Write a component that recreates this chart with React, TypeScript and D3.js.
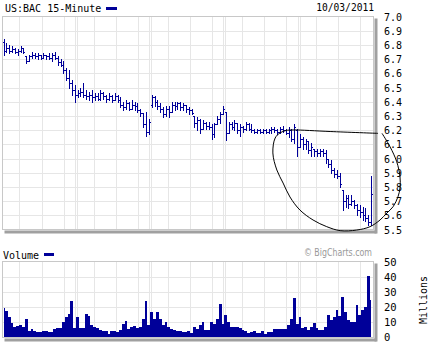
import React from "react";
import * as d3 from "d3";

// OHLC bars, 15-minute, [open, high, low, close], one array per session
const day1: number[][] = [
  [6.82, 6.84, 6.73, 6.76], [6.76, 6.81, 6.75, 6.78], [6.78, 6.80, 6.74, 6.76], [6.76, 6.79, 6.75, 6.77],
  [6.77, 6.78, 6.74, 6.75], [6.75, 6.77, 6.73, 6.76], [6.76, 6.79, 6.75, 6.78], [6.78, 6.78, 6.74, 6.75],
  [6.72, 6.72, 6.67, 6.69], [6.69, 6.73, 6.69, 6.72], [6.72, 6.75, 6.71, 6.73], [6.73, 6.74, 6.71, 6.72],
  [6.72, 6.74, 6.70, 6.73], [6.73, 6.73, 6.70, 6.71], [6.71, 6.74, 6.71, 6.73], [6.73, 6.73, 6.70, 6.72],
  [6.72, 6.74, 6.70, 6.71], [6.71, 6.74, 6.69, 6.73], [6.73, 6.75, 6.70, 6.71], [6.71, 6.72, 6.66, 6.68],
  [6.68, 6.70, 6.65, 6.66], [6.66, 6.69, 6.60, 6.62], [6.62, 6.64, 6.55, 6.57], [6.57, 6.62, 6.50, 6.53],
  [6.53, 6.55, 6.45, 6.48], [6.48, 6.52, 6.40, 6.45],
];
const day2: number[][] = [
  [6.45, 6.48, 6.43, 6.46], [6.46, 6.50, 6.44, 6.47], [6.47, 6.53, 6.43, 6.45], [6.45, 6.48, 6.42, 6.44],
  [6.44, 6.47, 6.41, 6.45], [6.45, 6.48, 6.40, 6.43], [6.43, 6.46, 6.41, 6.44], [6.44, 6.46, 6.41, 6.42],
  [6.42, 6.48, 6.41, 6.46], [6.46, 6.47, 6.42, 6.44], [6.44, 6.45, 6.40, 6.42], [6.42, 6.46, 6.41, 6.44],
  [6.44, 6.45, 6.40, 6.41], [6.41, 6.46, 6.41, 6.44], [6.44, 6.45, 6.40, 6.41], [6.41, 6.43, 6.36, 6.38],
  [6.38, 6.40, 6.34, 6.36], [6.36, 6.41, 6.35, 6.39], [6.39, 6.40, 6.34, 6.35], [6.35, 6.41, 6.35, 6.38],
  [6.38, 6.40, 6.34, 6.37], [6.37, 6.39, 6.33, 6.34], [6.34, 6.35, 6.30, 6.32], [6.32, 6.32, 6.22, 6.24],
  [6.24, 6.33, 6.16, 6.19], [6.19, 6.28, 6.17, 6.26],
];
const day3: number[][] = [
  [6.38, 6.45, 6.36, 6.43], [6.43, 6.44, 6.37, 6.40], [6.40, 6.41, 6.35, 6.37], [6.37, 6.39, 6.33, 6.35],
  [6.35, 6.36, 6.29, 6.31], [6.31, 6.37, 6.30, 6.35], [6.35, 6.37, 6.29, 6.33], [6.33, 6.40, 6.33, 6.38],
  [6.38, 6.40, 6.34, 6.37], [6.37, 6.40, 6.35, 6.39], [6.39, 6.40, 6.34, 6.36], [6.36, 6.39, 6.34, 6.38],
  [6.38, 6.38, 6.33, 6.35], [6.35, 6.36, 6.31, 6.34], [6.34, 6.35, 6.31, 6.32], [6.30, 6.30, 6.22, 6.25],
  [6.25, 6.29, 6.20, 6.27], [6.27, 6.28, 6.18, 6.21], [6.21, 6.27, 6.21, 6.25], [6.25, 6.26, 6.21, 6.23],
  [6.23, 6.26, 6.21, 6.22], [6.22, 6.24, 6.14, 6.17], [6.17, 6.25, 6.15, 6.24], [6.24, 6.30, 6.24, 6.28],
  [6.28, 6.33, 6.25, 6.31], [6.31, 6.37, 6.31, 6.35],
];
const day4: number[][] = [
  [6.33, 6.33, 6.13, 6.18], [6.18, 6.26, 6.18, 6.24], [6.24, 6.26, 6.21, 6.22], [6.22, 6.27, 6.20, 6.25],
  [6.25, 6.25, 6.18, 6.20], [6.20, 6.24, 6.16, 6.22], [6.22, 6.23, 6.19, 6.21], [6.21, 6.26, 6.20, 6.24],
  [6.24, 6.25, 6.20, 6.21], [6.21, 6.24, 6.19, 6.20], [6.20, 6.21, 6.18, 6.19], [6.19, 6.21, 6.18, 6.20],
  [6.20, 6.21, 6.18, 6.19], [6.19, 6.21, 6.18, 6.20], [6.20, 6.21, 6.18, 6.19], [6.19, 6.21, 6.18, 6.20],
  [6.20, 6.22, 6.18, 6.21], [6.21, 6.22, 6.19, 6.20], [6.20, 6.21, 6.17, 6.19], [6.19, 6.22, 6.18, 6.21],
  [6.21, 6.23, 6.19, 6.20], [6.20, 6.21, 6.17, 6.18], [6.18, 6.22, 6.15, 6.20], [6.20, 6.21, 6.12, 6.14],
  [6.14, 6.24, 6.11, 6.22], [6.20, 6.21, 6.02, 6.08],
];
const day5: number[][] = [
  [6.08, 6.17, 6.08, 6.14], [6.14, 6.15, 6.07, 6.10], [6.10, 6.14, 6.07, 6.12], [6.12, 6.12, 6.04, 6.06],
  [6.06, 6.11, 6.02, 6.08], [6.07, 6.07, 6.02, 6.05], [6.05, 6.07, 6.02, 6.04], [6.04, 6.07, 6.02, 6.05],
  [6.05, 6.07, 6.02, 6.04], [6.04, 6.06, 5.97, 6.00], [6.00, 6.00, 5.94, 5.96], [5.96, 5.99, 5.90, 5.92],
  [5.92, 5.93, 5.87, 5.89], [5.89, 5.92, 5.86, 5.88], [5.88, 5.90, 5.80, 5.82], [5.78, 5.78, 5.64, 5.70],
  [5.70, 5.74, 5.66, 5.72], [5.72, 5.74, 5.65, 5.68], [5.68, 5.74, 5.67, 5.70], [5.70, 5.71, 5.65, 5.67],
  [5.67, 5.68, 5.60, 5.64], [5.64, 5.67, 5.59, 5.62], [5.62, 5.66, 5.57, 5.60], [5.60, 5.65, 5.56, 5.58],
  [5.58, 5.60, 5.53, 5.55], [5.55, 5.88, 5.53, 5.75],
];

// Volume in millions, one value per bar
const volumes: number[] = [
  19.5, 17.7, 13.5, 9.5, 7, 7.5, 8, 7, 12, 4.5, 5.5, 4.5, 3.6, 3.6, 4, 4.5, 3.6, 3.6, 5.5, 6.5, 6, 10.5, 13.5, 15.5, 24, 6,
  13.5, 6, 6.5, 15.7, 14, 8, 7, 6.5, 5, 4.5, 4.5, 2.5, 4, 4.5, 3.6, 5, 9, 11, 5.5, 7, 7.5, 6.5, 7, 12, 24, 8,
  17, 12.3, 17, 12, 8.5, 10.5, 6.8, 5.7, 5, 4.5, 4, 3.6, 3.6, 4, 3, 7, 5.5, 8.5, 10.5, 5, 5, 10.5, 9, 12.3, 22, 9,
  14.8, 10.5, 7, 6.8, 7, 6, 5, 4.5, 3, 3.5, 4, 3, 3, 4, 2.5, 3.4, 3.4, 5.3, 5.3, 5.5, 5.5, 5.8, 8.5, 12, 26, 9,
  13.5, 6, 7, 5, 7, 9.3, 6.5, 5, 5, 7, 14.8, 11.5, 13.5, 18.5, 14.5, 27, 17, 11.5, 10.5, 10.5, 21.5, 15, 18.5, 20, 40.5, 25,
];

const priceTicks: number[] = [7.0, 6.9, 6.8, 6.7, 6.6, 6.5, 6.4, 6.3, 6.2, 6.1, 6.0, 5.9, 5.8, 5.7, 5.6, 5.5];
const volumeTicks: number[] = [50, 40, 30, 20, 10, 0];
const sessionGridOffsets: number[] = [6.1, 13.9, 21.6]; // bars after session start
const barsPerSession = 26;
const sessions = 5;

// Hand-drawn annotation, in (bar index, price) units
const annotation: number[][] = [
  [132.8, 6.177], [135.6, 6.083], [137.96, 5.977], [139.1, 5.872], [139.1, 5.792], [138.4, 5.731],
  [136.7, 5.661], [134.5, 5.616], [132.1, 5.567], [128.6, 5.52], [123.9, 5.496], [118.1, 5.492],
  [113.4, 5.52], [108.6, 5.567], [104.0, 5.637], [100.5, 5.729], [98.1, 5.827], [95.9, 5.919],
  [94.5, 6.039], [95.3, 6.144], [97.0, 6.18], [99.1, 6.197], [101.6, 6.201], [114.6, 6.19], [131.4, 6.177],
];

const BLUE = "#000099";
const GRID = "#e6e6e6";
const FRAME = "#c8c8c8";
const SHADOW = "#a0a0a0";
const MONO = "'DejaVu Sans Mono', monospace";

export default function App() {
  const bars = [...day1, ...day2, ...day3, ...day4, ...day5];
  const n = bars.length;
  const x = d3.scaleLinear().domain([0, n - 1]).range([3.5, 371.2]);
  const yP = d3.scaleLinear().domain([5.5, 7.0]).range([229.5, 16.5]);
  const yV = d3.scaleLinear().domain([0, 50]).range([337.5, 262]);
  const bw = x(1) - x(0);

  const left = 2.5, right = 373.5;
  const pTop = 16.5, pBot = 229.5;
  const vTop = 261.5, vBot = 337.5;

  const vGrid: number[] = [];
  for (let d = 0; d < sessions; d++) sessionGridOffsets.forEach((o) => vGrid.push(Math.round(x(d * barsPerSession - 0.5 + o)) + 0.5));
  const dayLines: number[] = [];
  for (let d = 1; d < sessions; d++) {
    const b = x(d * barsPerSession - 0.5);
    dayLines.push(Math.round(b - 1) + 0.5, Math.round(b + 1) + 0.5);
  }

  const verticals = [...vGrid, ...dayLines];

  const areaGen = d3
    .area<number>()
    .x((_, i) => x(i))
    .y0(vBot)
    .y1((d) => yV(d))
    .curve(d3.curveStep);
  const volPath = areaGen(volumes) || "";

  const annLine = d3
    .line<number[]>()
    .x((d) => x(d[0]))
    .y((d) => yP(d[1]))
    .curve(d3.curveCatmullRom.alpha(0.5));

  return (
    <svg width={435} height={354} style={{ position: "absolute", left: 0, top: 0, background: "#fff" }}>
      <rect x={0} y={0} width={435} height={354} fill="#fff" />
      {/* header */}
      <text x={5} y={12} fontFamily={MONO} fontSize={10} fill="#000">US:BAC 15-Minute</text>
      <rect x={106} y={7} width={11} height={3} fill={BLUE} />
      <text x={374} y={11} textAnchor="end" fontFamily={MONO} fontSize={9.6} fill="#000">10/03/2011</text>

      {/* price panel */}
      <rect x={left + 2} y={pBot + 1} width={right - left + 1} height={3} fill={SHADOW} />
      <rect x={right + 1} y={pTop + 2} width={3} height={pBot - pTop + 2} fill={SHADOW} />
      <rect x={left} y={pTop} width={right - left} height={pBot - pTop} fill="#fff" />
      <g shapeRendering="crispEdges" stroke={GRID} strokeWidth={1}>
        {priceTicks.filter((t) => t > 5.5 && t < 7.0).map((t) => (
          <line key={t} x1={left} x2={right} y1={Math.round(yP(t)) + 0.5} y2={Math.round(yP(t)) + 0.5} />
        ))}
        {verticals.map((v, i) => (
          <line key={i} x1={v} x2={v} y1={pTop} y2={pBot} />
        ))}
      </g>
      <rect x={left} y={pTop} width={right - left} height={pBot - pTop} fill="none" stroke={FRAME} shapeRendering="crispEdges" />
      <g stroke={BLUE} strokeWidth={1} shapeRendering="crispEdges">
        {bars.map((b, i) => {
          const cx = Math.round(x(i)) + 0.5;
          return (
            <g key={i}>
              <line x1={cx} x2={cx} y1={yP(b[1])} y2={yP(b[2]) + 1} />
              <line x1={cx - 1.5} x2={cx} y1={Math.round(yP(b[0])) + 0.5} y2={Math.round(yP(b[0])) + 0.5} />
              <line x1={cx} x2={cx + 1.5} y1={Math.round(yP(b[3])) + 0.5} y2={Math.round(yP(b[3])) + 0.5} />
            </g>
          );
        })}
      </g>
      {priceTicks.map((t) => (
        <text key={t} x={384} y={yP(t) + 0.5} dy="0.35em" fontFamily={MONO} fontSize={10} fill="#000">
          {t.toFixed(1)}
        </text>
      ))}

      {/* volume panel */}
      <text x={3} y={258.5} fontFamily={MONO} fontSize={10} fill="#000">Volume</text>
      <rect x={44} y={253} width={10} height={3} fill={BLUE} />
      <text x={372} y={256} textAnchor="end" fontFamily="'DejaVu Sans', sans-serif" fontSize={10} fill="#999" textLength={68} lengthAdjust="spacingAndGlyphs">© BigCharts.com</text>
      <rect x={left + 2} y={vBot + 1} width={right - left + 1} height={3} fill={SHADOW} />
      <rect x={right + 1} y={vTop + 2} width={3} height={vBot - vTop + 2} fill={SHADOW} />
      <rect x={left} y={vTop} width={right - left} height={vBot - vTop} fill="#fff" />
      <g shapeRendering="crispEdges" stroke={GRID} strokeWidth={1}>
        {volumeTicks.filter((t) => t > 0 && t < 50).map((t) => (
          <line key={t} x1={left} x2={right} y1={Math.round(yV(t)) + 0.5} y2={Math.round(yV(t)) + 0.5} />
        ))}
        {verticals.map((v, i) => (
          <line key={i} x1={v} x2={v} y1={vTop} y2={vBot} />
        ))}
      </g>
      <path d={volPath} fill={BLUE} shapeRendering="crispEdges" />
      <rect x={left} y={vTop} width={right - left} height={vBot - vTop} fill="none" stroke={FRAME} shapeRendering="crispEdges" />
      {volumeTicks.map((t) => (
        <text key={t} x={384} y={yV(t)} dy="0.35em" fontFamily={MONO} fontSize={10.5} fill="#000">
          {t}
        </text>
      ))}
      <text transform="translate(427,300) rotate(-90)" textAnchor="middle" fontFamily={MONO} fontSize={10} fill="#000">
        Millions
      </text>

      {/* annotation */}
      <path d={annLine(annotation) || ""} fill="none" stroke="#000" strokeWidth={1} />
    </svg>
  );
}
